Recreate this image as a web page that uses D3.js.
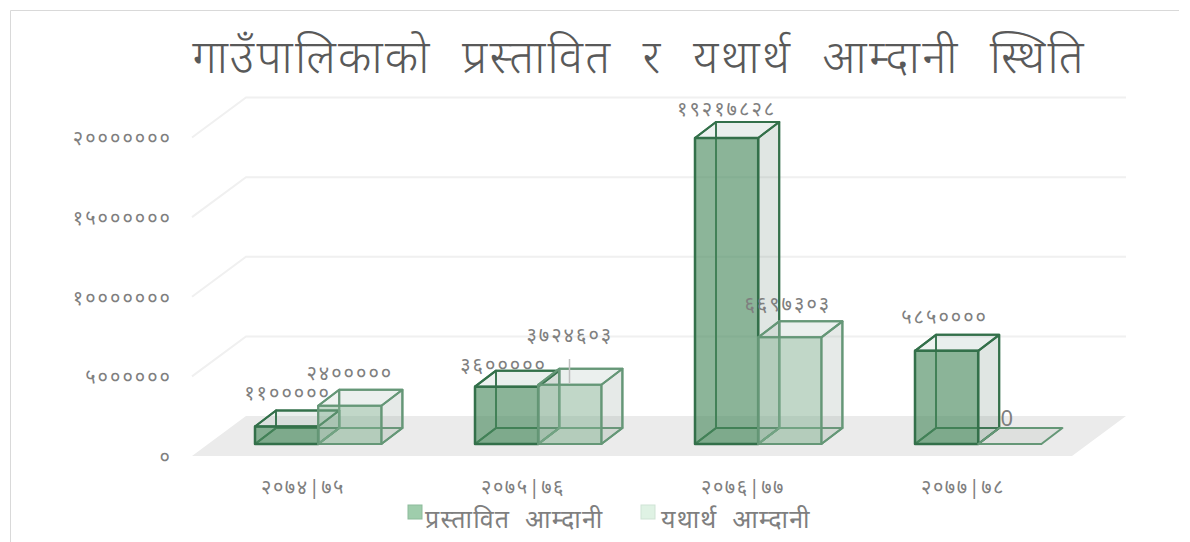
<!DOCTYPE html>
<html><head><meta charset="utf-8">
<script src="https://cdnjs.cloudflare.com/ajax/libs/d3/7.8.5/d3.min.js"></script>
<style>html,body{margin:0;padding:0;background:#fff;overflow:hidden}svg{display:block}
text{font-family:"Noto Sans","Noto Sans Devanagari","Noto Serif Devanagari","Lohit Devanagari",sans-serif}</style>
</head><body><svg id="c" width="1190" height="542"></svg>
<script>
const titleText = "गाउँपालिकाको प्रस्तावित र यथार्थ आम्दानी स्थिति";
const categories = ["२०७४|७५","२०७५|७६","२०७६|७७","२०७७|७८"];
const seriesNames = ["प्रस्तावित आम्दानी","यथार्थ आम्दानी"];
const proposed = [1100000,3600000,19217828,5850000];
const actual = [2400000,3724603,6697303,0];
const proposedLabels = ["११०००००","३६०००००","१९२१७८२८","५८५००००"];
const actualLabels = ["२४०००००","३७२४६०३","६६९७३०३","0"];
const yTicks = [0,5000000,10000000,15000000,20000000];
const yTickLabels = ["०","५००००००","१०००००००","१५००००००","२०००००००"];

const svg = d3.select("#c");
const x = d3.scaleBand().domain(categories).range([192,1072]);
const y = d3.scaleLinear().domain([0,20000000]).range([456,137.5]);
const wallDX = 54, wallDY = -40;
const barW = 63.2, barDX = 21, barDY = -16, baseOffset = 12;
const grey = "#7f7f7f";

// frame
svg.append("path").attr("d","M10.5,542V10.5H1179").attr("fill","none").attr("stroke","#d9d9d9").attr("stroke-width",1);

// title
svg.append("text").attr("x",639).attr("y",73).attr("text-anchor","middle")
  .attr("font-size",46).attr("font-weight",300).attr("fill","#595959")
  .style("letter-spacing","2.3px").style("word-spacing","16px").text(titleText);

// floor
const poly = pts => "M"+pts.map(p=>p.join(",")).join("L")+"Z";
svg.append("path").attr("d",poly([[192,y(0)],[1072,y(0)],[1072+wallDX,y(0)+wallDY],[192+wallDX,y(0)+wallDY]])).attr("fill","#ebebeb");
// gridlines
const gridG = svg.append("g");
yTicks.slice(1).forEach(t=>{
  gridG.append("path").attr("fill","none").attr("stroke","#f0f0f0").attr("stroke-width",2)
    .attr("d",`M192,${y(t)}L${192+wallDX},${y(t)+wallDY}H${1072+wallDX}`);
});

// y axis
const yAxis = d3.axisLeft(y).tickValues(yTicks).tickSize(0).tickPadding(0).tickFormat((d,i)=>yTickLabels[i]);
const yg = svg.append("g").attr("transform","translate(172,1)").call(yAxis);
yg.select(".domain").remove();
yg.selectAll("text").attr("font-size",20).attr("fill",grey).style("letter-spacing","2px");

// x axis
const xAxis = d3.axisBottom(x).tickSize(0).tickPadding(0);
const xg = svg.append("g").attr("transform","translate(1,480)").call(xAxis);
xg.select(".domain").remove();
xg.selectAll("text").attr("font-size",20).attr("fill",grey).attr("dy","0.71em").style("letter-spacing","1.5px");

// bars
const styles = [
 {front:"rgba(75,140,95,.64)",stroke:"#33704a",side:"rgba(120,145,130,.2)",top:"rgba(130,165,150,.14)",base:"rgba(60,120,80,.1)",back:"rgba(130,165,150,.03)"},
 {front:"rgba(130,175,145,.48)",stroke:"#659777",side:"rgba(130,150,135,.17)",top:"rgba(130,165,150,.13)",base:"rgba(130,175,145,.08)",back:"rgba(130,165,150,.03)"}
];
function drawBar(g,cat,val,si){
  const s = styles[si];
  const x0 = x(cat)+63+si*barW, x1 = x0+barW;
  const yb = y(0)-baseOffset, yt = yb-(y(0)-y(val));
  const F=[[x0,yb],[x1,yb],[x1,yt],[x0,yt]];
  const B=F.map(p=>[p[0]+barDX,p[1]+barDY]);
  const face=(pts,fill,sw)=>g.append("path").attr("d",poly(pts)).attr("fill",fill).attr("stroke",s.stroke).attr("stroke-width",sw).attr("stroke-linejoin","round");
  if(val>0) face(B,s.back,2);
  if(val>0) face([F[0],B[0],B[3],F[3]],"none",2);
  face([F[0],F[1],B[1],B[0]],val>0?s.base:"rgba(130,150,135,.12)",2);
  if(val>0){
    face([F[1],F[2],B[2],B[1]],s.side,2);
    face([F[3],F[2],B[2],B[3]],s.top,2);
    face(F,s.front,si===0?2.5:2);
  }
}
const barsG = svg.append("g");
categories.forEach((c,i)=>{ drawBar(barsG,c,proposed[i],0); drawBar(barsG,c,actual[i],1); });

// leader line
svg.append("line").attr("x1",569.5).attr("x2",569.5).attr("y1",359).attr("y2",384).attr("stroke","#bfbfbf").attr("stroke-width",1.5);

// data labels
const proposedLabelOffset = [[1,-32],[-3,-21],[0,-28],[-2,-33]];
const actualLabelOffset = [[0,-32],[0,-49],[-2,-32],[-3,-24]];
function labels(vals,txts,offs,si){
  categories.forEach((c,i)=>{
    const cx = x(c)+63+si*barW+barW/2;
    const yt = y(0)-baseOffset-(y(0)-y(vals[i]));
    svg.append("text").attr("x",cx+offs[i][0]).attr("y",yt+offs[i][1]+6).attr("text-anchor","middle")
      .attr("font-size",txts[i]==="0"?22:20).attr("fill",grey).style("letter-spacing",txts[i]==="0"?"0":"2px").text(txts[i]);
  });
}
labels(proposed,proposedLabels,proposedLabelOffset,0);
labels(actual,actualLabels,actualLabelOffset,1);

// legend
const legendX = [408,641];
const legendTextGap = [17,20];
seriesNames.forEach((n,i)=>{
  svg.append("rect").attr("x",legendX[i]).attr("y",505).attr("width",14).attr("height",14)
    .attr("fill",i?"#dff2e4":"#9fcdac").attr("stroke",i?"#cfe3d5":"#8dbb9b");
  svg.append("text").attr("x",legendX[i]+legendTextGap[i]).attr("y",528).attr("font-size",25).attr("fill",grey)
    .style("letter-spacing","1.2px").style("word-spacing","7px").text(n);
});
</script></body></html>
